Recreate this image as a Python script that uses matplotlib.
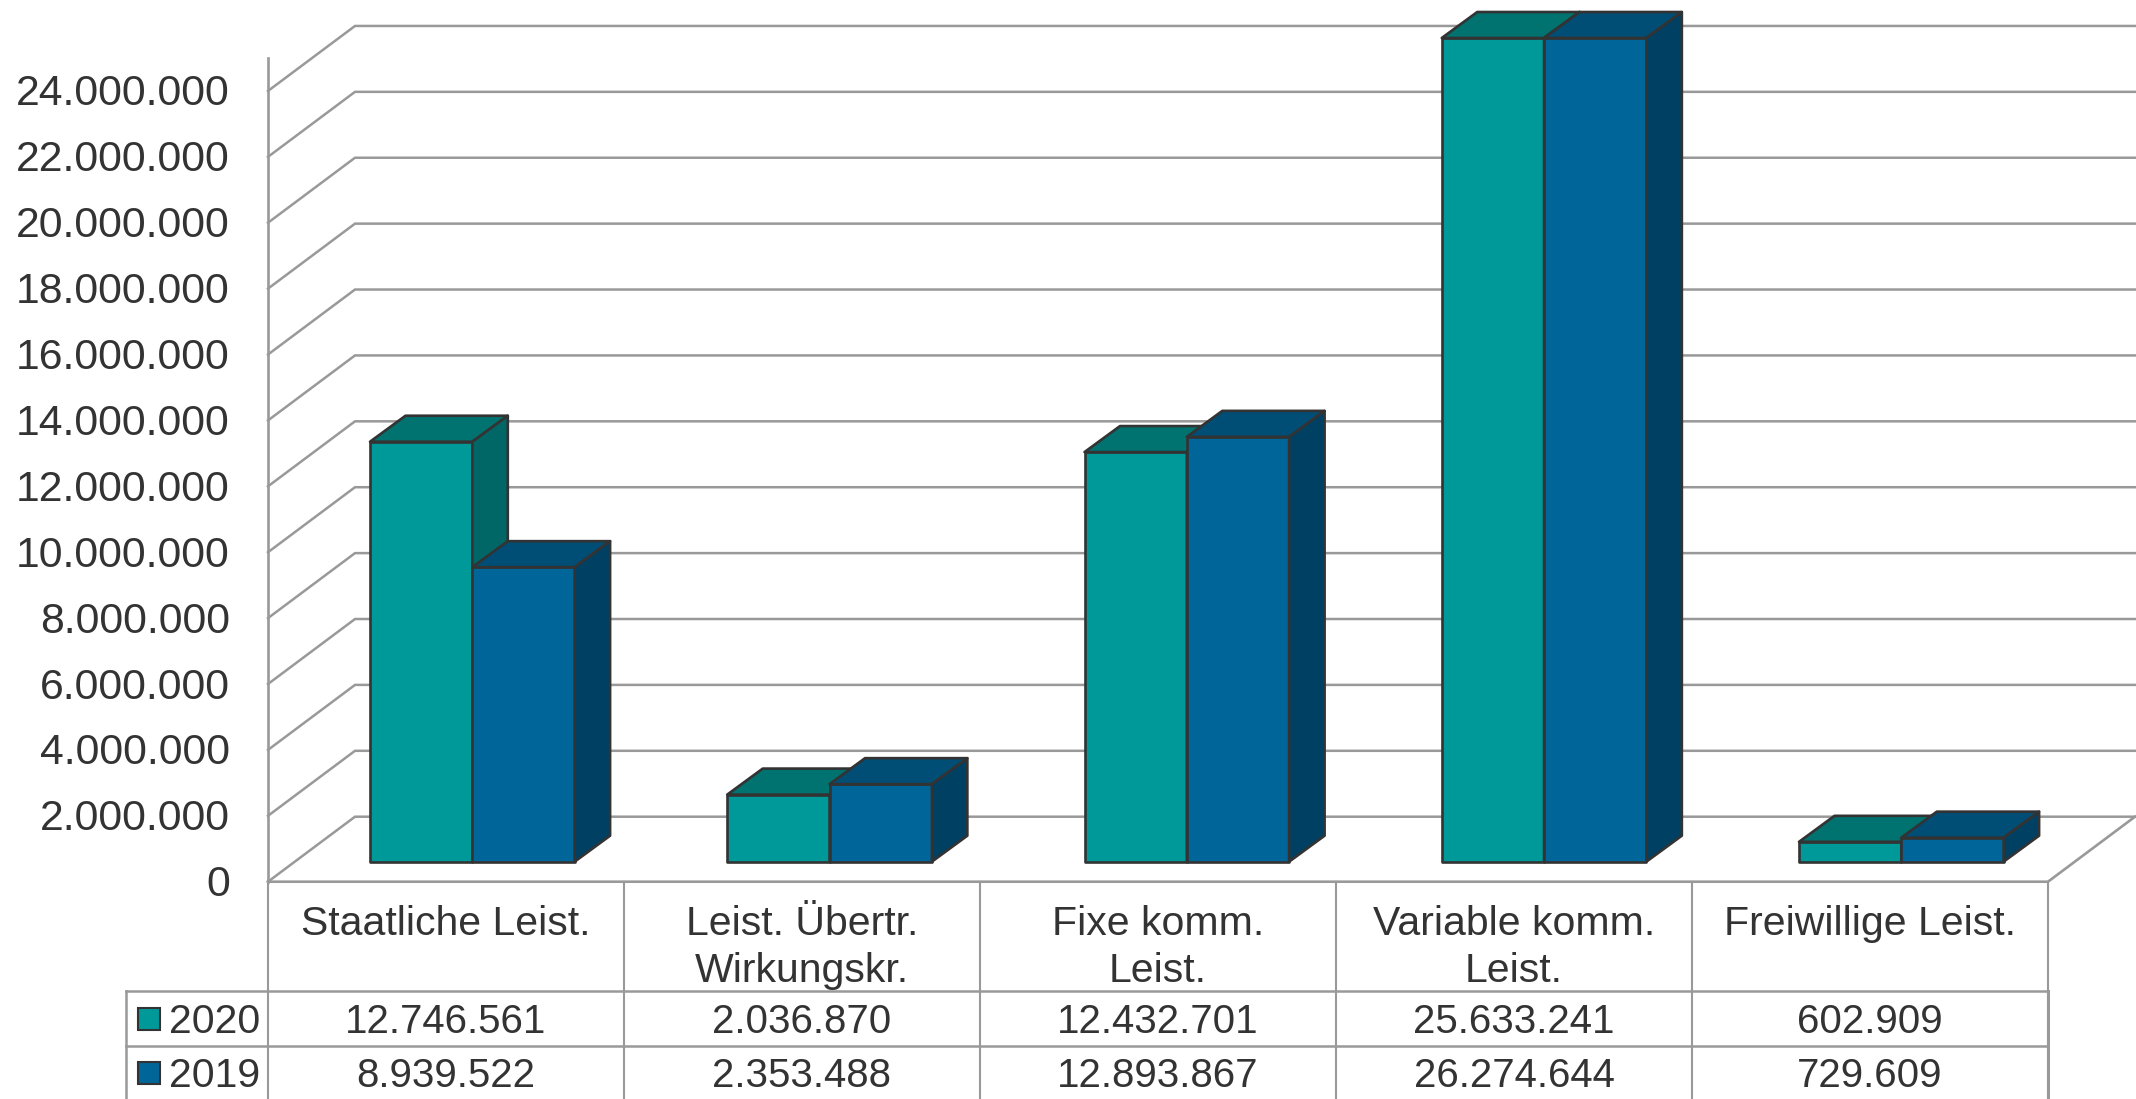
import numpy as np
import matplotlib
matplotlib.use("Agg")
import matplotlib.pyplot as plt
from matplotlib.patches import Polygon, Rectangle
from matplotlib.transforms import ScaledTranslation

# Daten
categories = ["Staatliche Leist.", "Leist. Übertr.\nWirkungskr.", "Fixe komm.\nLeist.",
              "Variable komm.\nLeist.", "Freiwillige Leist."]
years = ["2020", "2019"]
values_2020 = [12746561, 2036870, 12432701, 25633241, 602909]
values_2019 = [8939522, 2353488, 12893867, 26274644, 729609]
y_ticks = list(range(0, 24000001, 2000000))
y_max = 25000000

plt.rcParams["font.family"] = ["Liberation Sans", "DejaVu Sans"]
TEXT = "#333333"
GRID = "#999999"
EDGE = "#333333"
SIZE_TICK = 30.8
SIZE_CAT = 29.5
SIZE_VAL = 29

COLORS_2020 = {"front": "#009999", "top": "#007370", "side": "#006666"}
COLORS_2019 = {"front": "#006699", "top": "#004e75", "side": "#004063"}

W, H = 2136, 1099
X0, X1, Y0, Y1 = 268, 2048, 881.7, 58  # Vorderkante Diagramm in Pixel


def fmt(v):
    return f"{v:,}".replace(",", ".")


fig = plt.figure(figsize=(W / 100, H / 100), dpi=100)
fig.patch.set_facecolor("white")

ax = fig.add_axes([X0 / W, 1 - Y0 / H, (X1 - X0) / W, (Y0 - Y1) / H])
ax.set_xlim(0, len(categories))
ax.set_ylim(0, y_max)
ax.patch.set_visible(False)

unit_x = (X1 - X0) / len(categories)  # Pixel je Kategorie
unit_y = (Y0 - Y1) / y_max  # Pixel je Wert

# Tiefe des Bodens und der Balken, in Datenkoordinaten
floor_dx, floor_dy = 87 / unit_x, 65 / unit_y
bar_dx, bar_dy = 35.5 / unit_x, 26 / unit_y
bar_base = 20 / unit_y
bar_w = 102.3 / unit_x
bar_start = 102 / unit_x
bar_step = 357.25 / unit_x

for s in ["top", "right", "bottom"]:
    ax.spines[s].set_visible(False)
ax.spines["left"].set_color(GRID)
ax.spines["left"].set_linewidth(1.9)
ax.set_xticks([])
ax.set_yticks(y_ticks)
ax.set_yticklabels([fmt(v) for v in y_ticks], fontsize=SIZE_TICK, color=TEXT)
ax.tick_params(axis="y", length=0, pad=27.5)
for lbl in ax.get_yticklabels():
    lbl.set_transform(lbl.get_transform() + ScaledTranslation(0, 1 / 100, fig.dpi_scale_trans))

# Gitter an Seiten- und Rückwand
x_end = len(categories) + floor_dx
for v in y_ticks:
    ax.plot([0, floor_dx, x_end], [v, v + floor_dy, v + floor_dy], color=GRID, lw=1.8,
            clip_on=False, zorder=1, solid_joinstyle="miter")
ax.plot([0, len(categories), x_end], [0, 0, floor_dy], color=GRID, lw=1.9, clip_on=False, zorder=1)


def draw_bar(left, value, colors, z):
    top = bar_base + min(value, y_max)
    right = left + bar_w
    faces = {
        "front": [(left, bar_base), (right, bar_base), (right, top), (left, top)],
        "top": [(left, top), (right, top), (right + bar_dx, top + bar_dy), (left + bar_dx, top + bar_dy)],
        "side": [(right, bar_base), (right + bar_dx, bar_base + bar_dy),
                 (right + bar_dx, top + bar_dy), (right, top)],
    }
    for name, pts in faces.items():
        ax.add_patch(Polygon(pts, closed=True, facecolor=colors[name], edgecolor=EDGE, lw=1.9,
                             clip_on=False, zorder=z, joinstyle="round"))


for i in range(len(categories)):
    left = bar_start + i * bar_step
    draw_bar(left, values_2020[i], COLORS_2020, 3)
    draw_bar(left + bar_w, values_2019[i], COLORS_2019, 3)

# Datentabelle unter dem Diagramm
tab = fig.add_axes([0, 0, 1, 1])
tab.set_xlim(0, W)
tab.set_ylim(H, 0)
tab.axis("off")
tab.patch.set_visible(False)

ROW_TOP, ROW_A, ROW_B = Y0, 990.7, 1046
LEFT_X = 126
col_edges = [X0 + i * unit_x for i in range(len(categories) + 1)]

for x in col_edges:
    tab.plot([x, x], [ROW_TOP, H], color=GRID, lw=1.5)
tab.plot([LEFT_X, LEFT_X], [ROW_A, H], color=GRID, lw=1.8)
tab.plot([X1, X1], [ROW_A, H], color=GRID, lw=2.2)
tab.plot([LEFT_X, X1], [ROW_A, ROW_A], color=GRID, lw=1.8)
tab.plot([LEFT_X, X1], [ROW_B, ROW_B], color=GRID, lw=1.8)

row_y = [1022, 1076]
for i, cat in enumerate(categories):
    cx = (col_edges[i] + col_edges[i + 1]) / 2
    for j, line in enumerate(cat.split("\n")):
        tab.text(cx, 924 + j * 47.5, line, ha="center", va="center", fontsize=SIZE_CAT, color=TEXT)
    tab.text(cx, row_y[0], fmt(values_2020[i]), ha="center", va="center", fontsize=SIZE_VAL, color=TEXT)
    tab.text(cx, row_y[1], fmt(values_2019[i]), ha="center", va="center", fontsize=SIZE_VAL, color=TEXT)

for y, year, colors in zip(row_y, years, [COLORS_2020, COLORS_2019]):
    tab.add_patch(Rectangle((137.5, y - 14), 22.5, 22, facecolor=colors["front"], edgecolor=EDGE, lw=1.5))
    tab.text(169, y, year, ha="left", va="center", fontsize=SIZE_CAT, color=TEXT)

fig.savefig("out.png", dpi=100)
